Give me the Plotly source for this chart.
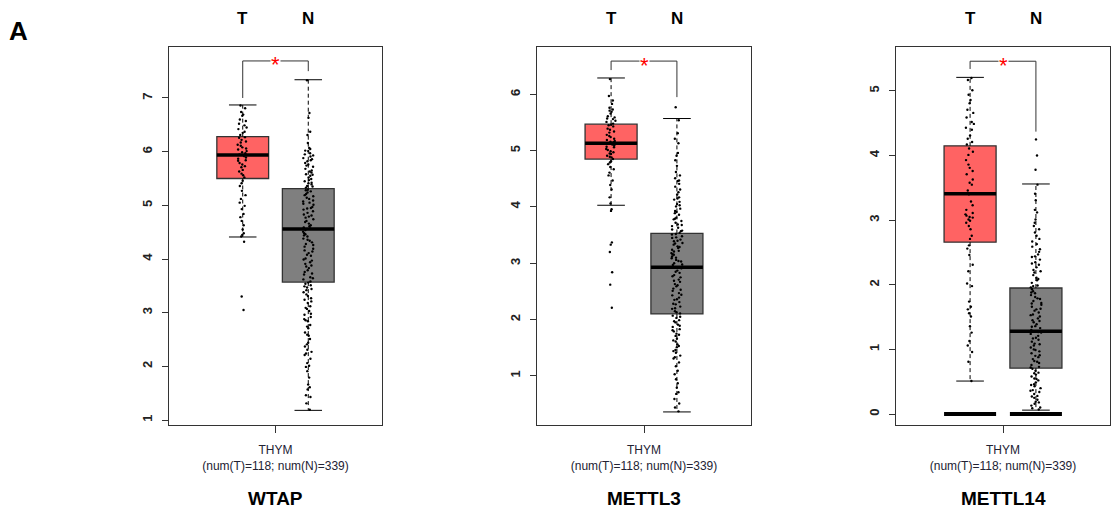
import plotly.graph_objects as go

# ---------------- data ----------------
genes = ["WTAP", "METTL3", "METTL14"]
groups = ["T", "N"]
x_tick_text = "THYM<br>(num(T)=118; num(N)=339)"

# box statistics, one value per gene
t_q1 = [5.50, 4.85, 2.66]
t_median = [5.94, 5.13, 3.41]
t_q3 = [6.28, 5.47, 4.15]
t_lower = [4.41, 4.03, 0.51]
t_upper = [6.87, 6.29, 5.21]

n_q1 = [3.57, 2.10, 0.71]
n_median = [4.56, 2.93, 1.28]
n_q3 = [5.31, 3.53, 1.95]
n_lower = [1.18, 0.36, 0.06]
n_upper = [7.34, 5.57, 3.56]

# significance bracket heights (left end, top, right end)
bracket_left = [7.00, 6.43, 5.34]
bracket_top = [7.69, 6.59, 5.46]
bracket_right = [7.50, 5.95, 4.37]

# METTL14 zero-expression rows (thick bar at 0)
zero_level = [None, None, 0.0]

# axis ranges and ticks
y_ranges = [[0.907, 7.95], [0.128, 6.84], [-0.17, 5.68]]
y_ticks = [[1, 2, 3, 4, 5, 6, 7], [1, 2, 3, 4, 5, 6], [0, 1, 2, 3, 4, 5]]

# individual samples (estimated from the jittered dots)
wtap_t_points = [6.86, 6.81, 6.74, 6.69, 6.67, 6.6, 6.57, 6.52, 6.49, 6.45, 6.42, 6.37, 6.35, 6.31,
                 6.27, 6.26, 6.22, 6.19, 6.17, 6.13, 6.11, 6.08, 6.06, 6.04, 6.01, 5.99, 5.97, 5.95,
                 5.94, 5.92, 5.89, 5.87, 5.84, 5.83, 5.79, 5.76, 5.73, 5.71, 5.66, 5.63, 5.59, 5.56,
                 5.52, 5.46, 5.41, 5.36, 5.27, 5.19, 5.12, 5.05, 4.99, 4.93, 4.84, 4.78, 4.71, 4.63,
                 4.55, 4.48, 4.45, 4.42, 4.32, 3.30, 3.05]
wtap_n_points = [7.33, 6.72, 6.63, 6.37, 6.31, 6.16, 6.07, 6.05, 6.01, 5.97, 5.95, 5.91, 5.88, 5.86,
                 5.82, 5.79, 5.74, 5.72, 5.68, 5.65, 5.61, 5.58, 5.55, 5.52, 5.49, 5.45, 5.42, 5.39,
                 5.36, 5.33, 5.29, 5.26, 5.24, 5.19, 5.17, 5.12, 5.09, 5.05, 5.03, 4.97, 4.94, 4.92,
                 4.86, 4.83, 4.79, 4.77, 4.71, 4.69, 4.63, 4.61, 4.57, 4.54, 4.48, 4.46, 4.42, 4.36,
                 4.34, 4.28, 4.26, 4.19, 4.16, 4.11, 4.06, 4.01, 3.97, 3.94, 3.88, 3.86, 3.79, 3.76,
                 3.71, 3.66, 3.62, 3.58, 3.54, 3.51, 3.47, 3.42, 3.38, 3.34, 3.27, 3.21, 3.18, 3.12,
                 3.07, 3.03, 2.96, 2.92, 2.88, 2.84, 2.77, 2.71, 2.63, 2.57, 2.51, 2.44, 2.37, 2.31,
                 2.27, 2.21, 2.14, 2.06, 2.01, 1.99, 1.91, 1.79, 1.66, 1.61, 1.57, 1.46, 1.43, 1.31,
                 1.19,
                 6.02, 5.93, 5.84, 5.76, 5.63, 5.57, 5.47, 5.41, 5.35, 5.28, 5.21, 5.14, 5.07, 5.01,
                 4.95, 4.89, 4.81, 4.74, 4.66, 4.59, 4.51, 4.44, 4.38, 4.31, 4.23, 4.14, 4.08, 3.99,
                 3.91, 3.83, 3.73, 3.64, 3.56, 3.49, 3.44, 3.31, 3.24, 3.09, 2.98, 2.86, 2.74, 2.59,
                 2.41, 2.24]

mettl3_t_points = [6.27, 5.97, 5.89, 5.83, 5.76, 5.73, 5.69, 5.66, 5.61, 5.59, 5.56, 5.53, 5.51,
                   5.48, 5.45, 5.43, 5.39, 5.34, 5.32, 5.28, 5.26, 5.21, 5.19, 5.16, 5.15, 5.13,
                   5.11, 5.09, 5.06, 5.03, 4.99, 4.97, 4.94, 4.91, 4.88, 4.85, 4.81, 4.76, 4.71,
                   4.67, 4.61, 4.56, 4.47, 4.39, 4.31, 4.17, 4.06, 3.96, 3.93, 3.37, 3.33, 3.20,
                   2.84, 2.62, 2.21,
                   5.71, 5.57, 5.46, 5.37, 5.24, 5.17, 5.12, 5.07, 5.01, 4.95, 4.89, 4.79]
mettl3_n_points = [5.77, 5.54, 5.31, 5.21, 5.13, 4.96, 4.91, 4.83, 4.73, 4.62, 4.56, 4.51, 4.47,
                   4.41, 4.36, 4.31, 4.26, 4.22, 4.17, 4.13, 4.09, 4.05, 4.01, 3.97, 3.93, 3.89,
                   3.86, 3.81, 3.78, 3.75, 3.72, 3.69, 3.66, 3.63, 3.6, 3.57, 3.54, 3.51, 3.48,
                   3.45, 3.42, 3.39, 3.36, 3.33, 3.3, 3.27, 3.24, 3.21, 3.18, 3.15, 3.12, 3.09,
                   3.06, 3.03, 3.0, 2.97, 2.94, 2.91, 2.87, 2.83, 2.79, 2.75, 2.71, 2.67, 2.63,
                   2.59, 2.55, 2.51, 2.47, 2.43, 2.39, 2.35, 2.31, 2.27, 2.23, 2.19, 2.15, 2.11,
                   2.07, 2.03, 1.99, 1.95, 1.91, 1.87, 1.83, 1.79, 1.75, 1.71, 1.66, 1.61, 1.56,
                   1.51, 1.46, 1.41, 1.36, 1.31, 1.24, 1.17, 1.09, 1.03, 0.94, 0.87, 0.79, 0.71,
                   0.68, 0.59, 0.51, 0.44, 0.37,
                   3.58, 3.52, 3.46, 3.4, 3.35, 3.29, 3.22, 3.16, 3.1, 3.04, 2.98, 2.92, 2.85,
                   2.77, 2.69, 2.61, 2.53, 2.44, 2.36, 2.28, 2.2, 2.13, 2.05, 1.97, 1.89, 1.81,
                   1.73, 1.63, 1.53, 1.44, 1.33, 4.03, 3.91, 3.79, 3.68, 4.46, 4.15]

mettl14_t_points = [5.2, 5.17, 5.01, 4.94, 4.86, 4.81, 4.71, 4.66, 4.59, 4.52, 4.49, 4.43, 4.4,
                    4.31, 4.26, 4.21, 4.17, 4.11, 4.06, 4.01, 3.93, 3.86, 3.81, 3.76, 3.71, 3.63,
                    3.58, 3.55, 3.46, 3.4, 3.29, 3.23, 3.16, 3.11, 3.09, 3.07, 3.05, 3.04, 3.01,
                    2.99, 2.96, 2.91, 2.86, 2.76, 2.71, 2.61, 2.56, 2.46, 2.31, 2.21, 2.02, 1.98,
                    1.74, 1.66, 1.62, 1.56, 1.51, 1.36, 1.26, 1.13, 1.06, 0.96, 0.81, 0.51]
mettl14_n_points = [4.25, 4.0, 3.78, 3.55, 3.41, 3.31, 3.16, 3.12, 3.01, 2.96, 2.91, 2.86, 2.81,
                    2.76, 2.71, 2.67, 2.63, 2.59, 2.55, 2.51, 2.47, 2.43, 2.39, 2.35, 2.31, 2.27,
                    2.23, 2.19, 2.15, 2.11, 2.07, 2.03, 1.99, 1.96, 1.93, 1.9, 1.87, 1.84, 1.81,
                    1.78, 1.75, 1.72, 1.69, 1.66, 1.63, 1.6, 1.57, 1.54, 1.51, 1.48, 1.45, 1.42,
                    1.39, 1.36, 1.33, 1.3, 1.27, 1.24, 1.21, 1.18, 1.15, 1.12, 1.09, 1.06, 1.03,
                    1.0, 0.97, 0.94, 0.91, 0.88, 0.85, 0.82, 0.79, 0.76, 0.73, 0.7, 0.67, 0.64,
                    0.61, 0.58, 0.55, 0.52, 0.49, 0.46, 0.43, 0.4, 0.37, 0.34, 0.31, 0.28, 0.25,
                    0.22, 0.19, 0.16, 0.13, 0.1, 0.07,
                    2.44, 2.33, 2.21, 2.09, 1.98, 1.88, 1.79, 1.71, 1.62, 1.53, 1.44, 1.35, 1.26,
                    1.17, 1.08, 0.99, 0.9, 0.81, 0.72, 0.63, 0.54, 0.45, 0.36, 0.27, 0.18, 0.09]

t_points = [wtap_t_points, mettl3_t_points, mettl14_t_points]
n_points = [wtap_n_points, mettl3_n_points, mettl14_n_points]

# ---------------- styling / layout constants ----------------
FONT = "Liberation Sans, Arial, sans-serif"
T_FILL = "#FF6363"
N_FILL = "#7F7F7F"
EDGE = "#333333"
BOX_W = 0.79
CAP_HALF = 0.21
X_POS = [1, 2]
X_RANGE = [-0.125, 3.125]
W, H = 1113, 518
x_domains = [[169 / W, 382 / W], [537 / W, 751 / W], [896 / W, 1110 / W]]
y_domain = [1 - 425 / H, 1 - 47 / H]

fig = go.Figure()
annotations = []
layout_axes = {}

for i, gene in enumerate(genes):
    sfx = "" if i == 0 else str(i + 1)
    xa, ya = "x" + sfx, "y" + sfx
    stats = [
        (t_q1[i], t_median[i], t_q3[i], t_lower[i], t_upper[i], T_FILL, t_points[i]),
        (n_q1[i], n_median[i], n_q3[i], n_lower[i], n_upper[i], N_FILL, n_points[i]),
    ]
    for j, (q1, med, q3, lo, up, fill, pts) in enumerate(stats):
        pos = X_POS[j]
        # whiskers (dashed)
        fig.add_trace(go.Scatter(
            x=[pos, pos, None, pos, pos], y=[q3, up, None, q1, lo], mode="lines",
            line=dict(color="#000000", width=1, dash="4px,3px"),
            xaxis=xa, yaxis=ya, showlegend=False, hoverinfo="skip"))
        # caps
        fig.add_trace(go.Scatter(
            x=[pos - CAP_HALF, pos + CAP_HALF, None, pos - CAP_HALF, pos + CAP_HALF],
            y=[up, up, None, lo, lo], mode="lines",
            line=dict(color="#000000", width=1),
            xaxis=xa, yaxis=ya, showlegend=False, hoverinfo="skip"))
        # box
        fig.add_trace(go.Box(
            x=[pos], q1=[q1], median=[med], q3=[q3], lowerfence=[q1], upperfence=[q3],
            width=BOX_W, fillcolor=fill, line=dict(color=EDGE, width=1.3),
            boxpoints=False, xaxis=xa, yaxis=ya, showlegend=False, hoverinfo="skip"))
        # median bar
        fig.add_trace(go.Scatter(
            x=[pos - BOX_W / 2, pos + BOX_W / 2], y=[med, med], mode="lines",
            line=dict(color="#000000", width=3.5),
            xaxis=xa, yaxis=ya, showlegend=False, hoverinfo="skip"))
        # jittered samples
        fig.add_trace(go.Box(
            x=[pos] * len(pts), y=pts, boxpoints="all", jitter=0.22, pointpos=0,
            width=BOX_W, fillcolor="rgba(0,0,0,0)",
            line=dict(color="rgba(0,0,0,0)", width=0),
            marker=dict(color="#000000", size=2.4),
            xaxis=xa, yaxis=ya, showlegend=False, hoverinfo="skip"))
        # zero rows bar
        if zero_level[i] is not None:
            fig.add_trace(go.Scatter(
                x=[pos - BOX_W / 2, pos + BOX_W / 2], y=[zero_level[i], zero_level[i]],
                mode="lines", line=dict(color="#000000", width=4),
                xaxis=xa, yaxis=ya, showlegend=False, hoverinfo="skip"))

    # significance bracket
    fig.add_trace(go.Scatter(
        x=[X_POS[0], X_POS[0], X_POS[1], X_POS[1]],
        y=[bracket_left[i], bracket_top[i], bracket_top[i], bracket_right[i]],
        mode="lines", line=dict(color=EDGE, width=1),
        xaxis=xa, yaxis=ya, showlegend=False, hoverinfo="skip"))
    annotations.append(dict(
        x=(X_POS[0] + X_POS[1]) / 2, y=bracket_top[i], xref=xa, yref=ya, text="*",
        showarrow=False, font=dict(family=FONT, size=22, color="#FF0000"),
        bgcolor="#FFFFFF", borderpad=0, xanchor="center", yanchor="middle", yshift=-4))

    # group labels above the panel
    for j, g in enumerate(groups):
        annotations.append(dict(
            x=X_POS[j], y=1 - 18 / H, xref=xa, yref="paper", text="<b>%s</b>" % g,
            showarrow=False, xanchor="center", yanchor="middle",
            font=dict(family=FONT, size=17, color="#000000")))
    # gene title below
    annotations.append(dict(
        x=(X_POS[0] + X_POS[1]) / 2, y=1 - 498 / H, xref=xa, yref="paper",
        text="<b>%s</b>" % gene, showarrow=False, xanchor="center", yanchor="middle",
        font=dict(family=FONT, size=19, color="#000000")))

    layout_axes["xaxis" + sfx] = dict(
        domain=x_domains[i], range=X_RANGE, anchor=ya, tickmode="array",
        tickvals=[(X_POS[0] + X_POS[1]) / 2], ticktext=[x_tick_text],
        ticks="outside", ticklen=7, tickcolor=EDGE, showgrid=False, zeroline=False,
        showline=True, mirror=True, linecolor=EDGE, linewidth=1, ticklabelstandoff=7,
        tickfont=dict(family=FONT, size=12, color="#222233"), fixedrange=True)
    layout_axes["yaxis" + sfx] = dict(
        domain=y_domain, range=y_ranges[i], anchor=xa, tickmode="array",
        tickvals=y_ticks[i], ticktext=[str(v) for v in y_ticks[i]], tickangle=-90,
        ticks="outside", ticklen=6, tickcolor=EDGE, showgrid=False, zeroline=False,
        showline=True, mirror=True, linecolor=EDGE, linewidth=1, ticklabelstandoff=5,
        tickfont=dict(family=FONT, size=13, color="#222222", weight="bold"), fixedrange=True)

annotations.append(dict(
    x=18 / W, y=1 - 31 / H, xref="paper", yref="paper", text="<b>A</b>",
    showarrow=False, xanchor="center", yanchor="middle",
    font=dict(family=FONT, size=26, color="#000000")))

fig.update_layout(
    width=W, height=H, margin=dict(l=0, r=0, t=0, b=0),
    paper_bgcolor="#FFFFFF", plot_bgcolor="#FFFFFF",
    boxmode="overlay", showlegend=False, annotations=annotations,
    **layout_axes)

fig.write_html(
    "out.html",
    config={"displayModeBar": False},
    post_script="document.body.style.margin='0px';document.body.style.overflow='hidden';")
